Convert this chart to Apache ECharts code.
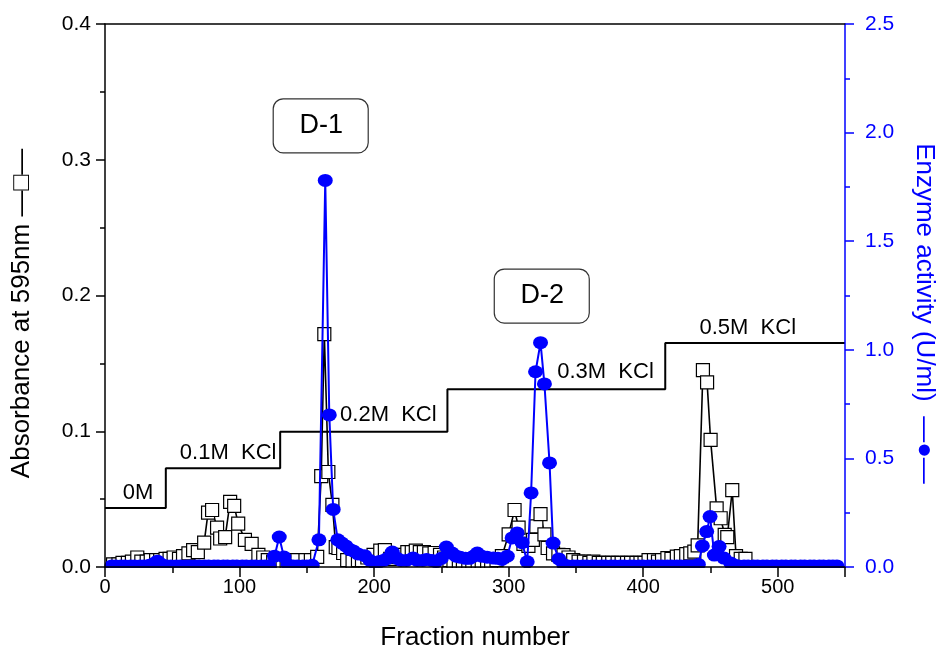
<!DOCTYPE html>
<html>
<head>
<meta charset="utf-8">
<title>Fraction profile</title>
<script src="https://cdn.jsdelivr.net/npm/echarts@6/dist/echarts.min.js"></script>
<style>
  html, body { margin: 0; padding: 0; background: #fff; }
  #chart { width: 939px; height: 652px; }
</style>
</head>
<body>
<div id="chart"></div>
<script>
// absorbance at 595nm (left axis), open squares
var absX = [6, 10, 13, 17, 20, 24, 27, 31, 34, 38, 41, 45, 48, 51, 55, 58, 62, 65.5, 69, 73.7,
  76.6, 79.6, 83.3, 85.6, 89.3, 93, 96, 99, 104, 109, 114, 117.6, 121, 125, 128, 132, 135, 138,
  143, 149, 153, 157.7, 160.7, 163, 166, 169, 171.5, 173.5, 177, 180, 184, 188, 191, 195, 199.6,
  204.6, 208, 212, 217, 221, 224.7, 228, 231, 234, 237, 241, 245, 249, 252, 256, 259, 263, 266,
  270, 273, 277, 280, 284, 287, 291, 295, 300, 304.4, 307.4, 311, 314.7, 318, 320.6, 323.7, 326.6,
  329, 333, 337, 340.8, 344.5, 348, 352, 356, 360, 363, 367, 370, 374, 377, 381, 384, 388, 391,
  395, 398, 401, 404, 408, 411, 414, 418, 421, 425, 428, 432, 435, 438, 440.5, 444.4, 447.5,
  450.1, 454.6, 457.6, 460.6, 462.5, 466.2, 469, 472.5, 476];
var absY = [0.002, 0.002, 0.003, 0.003, 0.004, 0.007, 0.004, 0.004, 0.005, 0.005, 0.005, 0.006,
  0.006, 0.007, 0.006, 0.008, 0.010, 0.0125, 0.011, 0.018, 0.040, 0.042, 0.029, 0.021, 0.022,
  0.048, 0.045, 0.032, 0.020, 0.017, 0.009, 0.007, 0.005, 0.004, 0.004, 0.003, 0.003, 0.005,
  0.005, 0.005, 0.005, 0.0074, 0.067, 0.1716, 0.070, 0.0457, 0.0147, 0.014, 0.0103, 0.005, 0.004,
  0.005, 0.005, 0.007, 0.009, 0.012, 0.0125, 0.006, 0.0074, 0.009, 0.011, 0.011, 0.012, 0.011,
  0.011, 0.010, 0.0103, 0.009, 0.007, 0.005, 0.004, 0.004, 0.004, 0.004, 0.004, 0.004, 0.004,
  0.004, 0.004, 0.005, 0.008, 0.024, 0.042, 0.029, 0.017, 0.0155, 0.020, 0.030, 0.039, 0.024,
  0.014, 0.010, 0.009, 0.0088, 0.007, 0.005, 0.004, 0.004, 0.003, 0.004, 0.003, 0.003, 0.003,
  0.003, 0.003, 0.003, 0.003, 0.003, 0.003, 0.003, 0.003, 0.005, 0.005, 0.004, 0.005, 0.0066,
  0.006, 0.0076, 0.008, 0.0095, 0.010, 0.0113, 0.016, 0.145, 0.136, 0.0936, 0.0432, 0.0359,
  0.0236, 0.022, 0.0567, 0.008, 0.006, 0.006];

// enzyme activity U/ml (right axis), filled circles
var actX = [5, 8, 12, 15, 19, 22, 26, 29, 33, 36, 39, 42, 46, 49, 53, 56, 60, 63, 67, 70, 74, 77,
  81, 84, 88, 91, 95, 98, 102, 105, 109, 112, 116, 119, 122, 126, 129.5, 133, 136, 140, 143, 147,
  150, 154, 159, 163.7, 166.7, 169.6, 173, 176, 179, 182, 184.5, 188, 193, 197, 200, 204, 207,
  210, 213.5, 217, 220, 224, 229, 232, 236, 239, 243, 246, 250, 253.7, 258, 261, 264, 268, 271,
  274, 276.7, 280, 284, 288.7, 292, 295, 299, 302.6, 306.3, 310, 313.8, 316.7, 320, 323.7, 326.6,
  330.4, 333, 337.3, 341, 344, 348, 351, 355, 358, 362, 365, 369, 372, 376, 379, 383, 386, 390,
  393, 397, 400, 404, 407, 411, 414, 418, 421, 425, 428, 432, 435, 438, 441, 444, 447.2, 449.7,
  452.9, 456.4, 460, 465, 468, 471, 475, 478, 482, 485, 489, 492, 496, 499, 503, 506, 510, 513,
  517, 520, 524, 527, 531, 534, 538, 541, 544];
var actY = [0.005, 0.005, 0.005, 0.005, 0.005, 0.005, 0.005, 0.005, 0.008, 0.015, 0.027, 0.012,
  0.005, 0.005, 0.005, 0.005, 0.005, 0.005, 0.005, 0.005, 0.005, 0.005, 0.005, 0.005, 0.005,
  0.005, 0.005, 0.005, 0.005, 0.005, 0.005, 0.005, 0.005, 0.005, 0.005, 0.05, 0.138, 0.046, 0.01,
  0.005, 0.005, 0.005, 0.005, 0.008, 0.125, 1.78, 0.70, 0.265, 0.125, 0.11, 0.097, 0.08, 0.074,
  0.06, 0.052, 0.03, 0.02, 0.025, 0.03, 0.04, 0.069, 0.04, 0.03, 0.03, 0.041, 0.03, 0.03, 0.035,
  0.03, 0.025, 0.04, 0.092, 0.064, 0.05, 0.045, 0.04, 0.04, 0.05, 0.064, 0.05, 0.045, 0.041, 0.04,
  0.035, 0.05, 0.134, 0.157, 0.112, 0.024, 0.341, 0.899, 1.033, 0.843, 0.479, 0.11, 0.037, 0.01,
  0.005, 0.005, 0.005, 0.005, 0.005, 0.005, 0.005, 0.005, 0.005, 0.005, 0.005, 0.005, 0.005,
  0.005, 0.005, 0.005, 0.005, 0.005, 0.005, 0.005, 0.005, 0.005, 0.005, 0.005, 0.005, 0.005,
  0.005, 0.005, 0.012, 0.097, 0.163, 0.232, 0.055, 0.094, 0.041, 0.018, 0.008, 0.005, 0.005,
  0.005, 0.005, 0.005, 0.005, 0.005, 0.005, 0.005, 0.005, 0.005, 0.005, 0.005, 0.005, 0.005,
  0.005, 0.005, 0.005, 0.005, 0.005, 0.005, 0.005];

// KCl step gradient, drawn in left-axis units
var stepX = [0, 45.2, 130.2, 254.5, 416.4, 550];
var stepY = [0.0435, 0.0727, 0.0997, 0.131, 0.165, 0.165];

// text labels: [text, x, y(left axis)]
var stepLabels = [
  ['0M', 24.5, 0.0545],
  ['0.1M  KCl', 91.5, 0.084],
  ['0.2M  KCl', 210.6, 0.112],
  ['0.3M  KCl', 372, 0.1436],
  ['0.5M  KCl', 477.7, 0.176]
];
var peakLabels = [
  ['D-1', 160.7, 0.325],
  ['D-2', 325, 0.1996]
];

var FONT = 'Liberation Sans, Arial, sans-serif';
var BLUE = '#0000ff';

function pairs(xs, ys) {
  return xs.map(function (x, i) { return [x, ys[i]]; });
}

var chart = echarts.init(document.getElementById('chart'));

var option = {
  animation: false,
  backgroundColor: '#fff',
  grid: { left: 105, right: 94, top: 24, bottom: 85, containLabel: false, outerBoundsMode: 'none' },
  xAxis: [{
    type: 'value', min: 0, max: 550, interval: 100, z: 20,
    name: 'Fraction number', nameLocation: 'middle', nameGap: 58,
    nameTextStyle: { fontSize: 26, color: '#000', fontFamily: FONT },
    axisLine: { onZero: false, lineStyle: { color: '#000', width: 1.5 } },
    axisTick: { inside: false, length: 10, lineStyle: { color: '#000', width: 1.5 } },
    minorTick: { show: true, splitNumber: 2, length: 6, lineStyle: { color: '#000', width: 1.5 } },
    axisLabel: { fontSize: 20, color: '#000', margin: 10, fontFamily: FONT,
      showMaxLabel: false },
    splitLine: { show: false }
  }, {
    type: 'value', min: 0, max: 550, position: 'top', z: 20,
    axisLine: { show: true, onZero: false, lineStyle: { color: '#000', width: 1.5 } },
    axisTick: { show: false }, axisLabel: { show: false }, splitLine: { show: false }
  }],
  yAxis: [{
    type: 'value', min: 0, max: 0.4, interval: 0.1, position: 'left', z: 20,
    name: 'Absorbance at 595nm —□—', nameLocation: 'middle', nameGap: 70,
    nameTextStyle: { fontSize: 26, color: '#000', fontFamily: FONT, padding: [0, 36, 0, 0] },
    axisLine: { show: true, onZero: false, lineStyle: { color: '#000', width: 1.5 } },
    axisTick: { length: 9, lineStyle: { color: '#000', width: 1.5 } },
    minorTick: { show: true, splitNumber: 2, length: 5, lineStyle: { color: '#000', width: 1.5 } },
    axisLabel: { fontSize: 21, color: '#000', margin: 14, fontFamily: FONT,
      formatter: function (v) { return v.toFixed(1); } },
    splitLine: { show: false }
  }, {
    type: 'value', min: 0, max: 2.5, interval: 0.5, position: 'right', z: 20,
    name: 'Enzyme activity (U/ml)  —●—', nameLocation: 'middle', nameGap: 66, nameRotate: -90,
    nameTextStyle: { fontSize: 26, color: BLUE, fontFamily: FONT, padding: [0, 0, 0, 36] },
    axisLine: { show: true, onZero: false, lineStyle: { color: BLUE, width: 1.5 } },
    axisTick: { length: 9, lineStyle: { color: BLUE, width: 1.5 } },
    minorTick: { show: true, splitNumber: 2, length: 5, lineStyle: { color: BLUE, width: 1.5 } },
    axisLabel: { fontSize: 21, color: BLUE, margin: 20, fontFamily: FONT,
      formatter: function (v) { return v.toFixed(1); } },
    splitLine: { show: false }
  }],
  series: [{
    name: 'KCl', type: 'line', step: 'end', xAxisIndex: 0, yAxisIndex: 0,
    data: pairs(stepX, stepY), showSymbol: false, z: 1,
    lineStyle: { color: '#000', width: 2 }
  }, {
    name: 'Absorbance', type: 'line', xAxisIndex: 0, yAxisIndex: 0,
    data: pairs(absX, absY), symbol: 'rect', symbolSize: 13, z: 2,
    lineStyle: { color: '#000', width: 1.6 },
    itemStyle: { color: '#fff', borderColor: '#000', borderWidth: 1.2 }
  }, {
    name: 'Enzyme activity', type: 'line', xAxisIndex: 0, yAxisIndex: 1,
    data: pairs(actX, actY), symbol: 'circle', symbolSize: [15, 13], z: 3,
    lineStyle: { color: BLUE, width: 2 },
    itemStyle: { color: BLUE, borderWidth: 0 }
  }]
};
chart.setOption(option);

// annotations placed through the axes
function px(x, y) { return chart.convertToPixel({ xAxisIndex: 0, yAxisIndex: 0 }, [x, y]); }
var grid = chart.convertToPixel({ xAxisIndex: 0, yAxisIndex: 0 }, [0, 0]);
var right = chart.convertToPixel({ xAxisIndex: 0, yAxisIndex: 0 }, [550, 0]);

var graphics = [{
  // hides the parts of markers that fall below the x axis
  type: 'rect', z: 10, silent: true,
  shape: { x: grid[0] - 8, y: grid[1] + 1, width: right[0] - grid[0] + 10, height: 14 },
  style: { fill: '#fff' }
}];
stepLabels.forEach(function (l) {
  var p = px(l[1], l[2]);
  graphics.push({
    type: 'text', x: p[0], y: p[1], z: 30,
    style: { text: l[0], fill: '#000', font: '22px ' + FONT, align: 'center', verticalAlign: 'middle' }
  });
});
peakLabels.forEach(function (l) {
  var p = px(l[1], l[2]);
  graphics.push({
    type: 'rect', z: 30,
    shape: { x: p[0] - 48, y: p[1] - 27, width: 95, height: 54, r: 10 },
    style: { fill: '#fff', stroke: '#333', lineWidth: 1.2 }
  });
  graphics.push({
    type: 'text', x: p[0], y: p[1], z: 31,
    style: { text: l[0], fill: '#000', font: '27px ' + FONT, align: 'center', verticalAlign: 'middle' }
  });
});
chart.setOption({ graphic: graphics });
</script>
</body>
</html>
